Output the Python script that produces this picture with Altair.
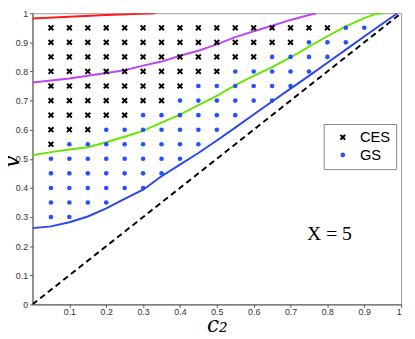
import altair as alt
import pandas as pd

# ---- grid of simulated points: per row v, CES c-values and GS c-values ----
rows_v = [0.95, 0.9, 0.85, 0.8, 0.75, 0.7, 0.65, 0.6, 0.55, 0.5, 0.45, 0.4, 0.35, 0.3]
ces_c = [
    [0.05, 0.1, 0.15, 0.2, 0.25, 0.3, 0.35, 0.4, 0.45, 0.5, 0.55, 0.6, 0.65, 0.7, 0.75, 0.8],
    [0.05, 0.1, 0.15, 0.2, 0.25, 0.3, 0.35, 0.4, 0.45, 0.5, 0.55, 0.6, 0.65, 0.7],
    [0.05, 0.1, 0.15, 0.2, 0.25, 0.3, 0.35, 0.4, 0.45, 0.5, 0.55, 0.6],
    [0.05, 0.1, 0.15, 0.2, 0.25, 0.3, 0.35, 0.4, 0.45, 0.5],
    [0.05, 0.1, 0.15, 0.2, 0.25, 0.3, 0.35, 0.4],
    [0.05, 0.1, 0.15, 0.2, 0.25, 0.3, 0.35],
    [0.05, 0.1, 0.15, 0.2, 0.25],
    [0.05, 0.1, 0.15],
    [0.05],
    [], [], [], [], [],
]
gs_c = [
    [0.85, 0.9],
    [0.75, 0.8, 0.85],
    [0.65, 0.7, 0.75, 0.8],
    [0.55, 0.6, 0.65, 0.7, 0.75],
    [0.45, 0.5, 0.55, 0.6, 0.65, 0.7],
    [0.4, 0.45, 0.5, 0.55, 0.6, 0.65],
    [0.3, 0.35, 0.4, 0.45, 0.5, 0.55],
    [0.2, 0.25, 0.3, 0.35, 0.4, 0.45, 0.5],
    [0.1, 0.15, 0.2, 0.25, 0.3, 0.35, 0.4, 0.45],
    [0.05, 0.1, 0.15, 0.2, 0.25, 0.3, 0.35, 0.4],
    [0.05, 0.1, 0.15, 0.2, 0.25, 0.3, 0.35],
    [0.05, 0.1, 0.15, 0.2, 0.25, 0.3],
    [0.05, 0.1, 0.15, 0.2],
    [0.05, 0.1],
]

# ---- boundary curves ----
red_c = [0.0, 0.1, 0.2, 0.333]
red_v = [0.982, 0.988, 0.994, 1.0]

purple_c = [0.0, 0.05, 0.1, 0.15, 0.2, 0.25, 0.3, 0.35, 0.4, 0.45, 0.5, 0.55, 0.6, 0.65, 0.7, 0.75, 0.77]
purple_v = [0.762, 0.769, 0.776, 0.785, 0.795, 0.804, 0.82, 0.834, 0.854, 0.871, 0.893, 0.918, 0.938, 0.957, 0.977, 0.994, 1.0]

green_c = [0.0, 0.05, 0.1, 0.15, 0.2, 0.25, 0.3, 0.35, 0.4, 0.45, 0.5, 0.55, 0.6, 0.65, 0.7, 0.75, 0.8, 0.85, 0.9, 0.93, 0.95]
green_v = [0.512, 0.523, 0.532, 0.54, 0.557, 0.576, 0.596, 0.624, 0.652, 0.684, 0.716, 0.753, 0.785, 0.815, 0.848, 0.885, 0.921, 0.955, 0.983, 0.997, 1.0]

blue_c = [0.0, 0.05, 0.1, 0.15, 0.2, 0.25, 0.3, 0.35, 0.4, 0.45, 0.5, 0.55, 0.6, 0.65, 0.7, 0.75, 0.8, 0.85, 0.9, 0.95, 0.99]
blue_v = [0.262, 0.268, 0.282, 0.302, 0.33, 0.362, 0.394, 0.44, 0.48, 0.52, 0.563, 0.607, 0.652, 0.697, 0.741, 0.785, 0.83, 0.875, 0.92, 0.965, 1.0]

diag_c = [0.0, 1.0]
diag_v = [0.0, 1.0]

x_ticks = [0.1, 0.2, 0.3, 0.4, 0.5, 0.6, 0.7, 0.8, 0.9, 1.0]
y_ticks = [0.0, 0.1, 0.2, 0.3, 0.4, 0.5, 0.6, 0.7, 0.8, 0.9, 1.0]

# ---- build tables ----
pts = []
for v, cs, gs in zip(rows_v, ces_c, gs_c):
    for c in cs:
        pts.append({"c": c, "v": v, "type": "CES"})
    for c in gs:
        pts.append({"c": c, "v": v, "type": "GS"})
pts = pd.DataFrame(pts)

def curve(cs, vs):
    return pd.DataFrame({"c": cs, "v": vs})

X_PATH = ("M-1,-0.55L-0.55,-1L0,-0.45L0.55,-1L1,-0.55L0.45,0L1,0.55L0.55,1"
          "L0,0.45L-0.55,1L-1,0.55L-0.45,0Z")

xscale = alt.Scale(domain=[0, 1], nice=False, zero=False)
yscale = alt.Scale(domain=[0, 1], nice=False, zero=False)

xenc = alt.X("c:Q", scale=xscale,
             axis=alt.Axis(values=x_ticks, format="~g", title="c₂", grid=False,
                           labelPadding=0, titleY=28, titleBaseline="alphabetic"))
yenc = alt.Y("v:Q", scale=yscale,
             axis=alt.Axis(values=y_ticks, format="~g", title="v", grid=False,
                           labelPadding=2, titleX=-21, titleY=151, titleAngle=270,
                           titleBaseline="middle", titleAlign="center"))

def line(df, color, dash=None):
    kw = dict(color=color, strokeWidth=2, clip=True)
    if dash:
        kw["strokeDash"] = dash
    return alt.Chart(df).mark_line(**kw).encode(x=xenc, y=yenc)

diag = line(curve(diag_c, diag_v), "black", [6, 4])
red = line(curve(red_c, red_v), "#ff1a1a")
purple = line(curve(purple_c, purple_v), "#bf45f2")
green = line(curve(green_c, green_v), "#66e600")
blue = line(curve(blue_c, blue_v), "#2b45f0")

points = alt.Chart(pts).mark_point(filled=True, opacity=1, strokeWidth=0).encode(
    x=xenc, y=yenc,
    shape=alt.Shape("type:N", scale=alt.Scale(domain=["CES", "GS"], range=[X_PATH, "circle"]),
                    legend=alt.Legend(title=None)),
    color=alt.Color("type:N", scale=alt.Scale(domain=["CES", "GS"], range=["black", "#2450ff"]),
                    legend=alt.Legend(title=None)),
    size=alt.Size("type:N", scale=alt.Scale(domain=["CES", "GS"], range=[40, 22]),
                  legend=alt.Legend(title=None)),
)

label = alt.Chart(pd.DataFrame({"c": [0.745], "v": [0.242], "t": ["X = 5"]})).mark_text(
    align="left", baseline="middle", font="Liberation Serif", fontSize=20, color="black"
).encode(x=xenc, y=yenc, text="t:N")

chart = alt.layer(diag, red, purple, green, blue, points, label).properties(
    width=376, height=297,
    autosize=alt.AutoSizeParams(type="none"),
    padding={"left": 25, "top": 2, "right": 6, "bottom": 34},
).configure_view(
    stroke="#999999", strokeWidth=1
).configure_axis(
    labelFont="Liberation Sans", labelFontSize=9, labelColor="#333333",
    domainColor="#555555", tickColor="#555555", tickSize=3,
    titleFont="DejaVu Serif", titleFontStyle="italic", titleFontWeight="normal",
    titleFontSize=22, titleColor="black",
).configure_legend(
    orient="none", legendX=297, legendY=113,
    fillColor="white", strokeColor="#888888", padding=6,
    labelFont="Liberation Sans", labelFontSize=15, labelColor="black",
    labelOffset=10, symbolOffset=6, rowPadding=2, symbolStrokeWidth=0,
)

chart.save("out.html", embed_options={"renderer": "svg", "actions": False})
